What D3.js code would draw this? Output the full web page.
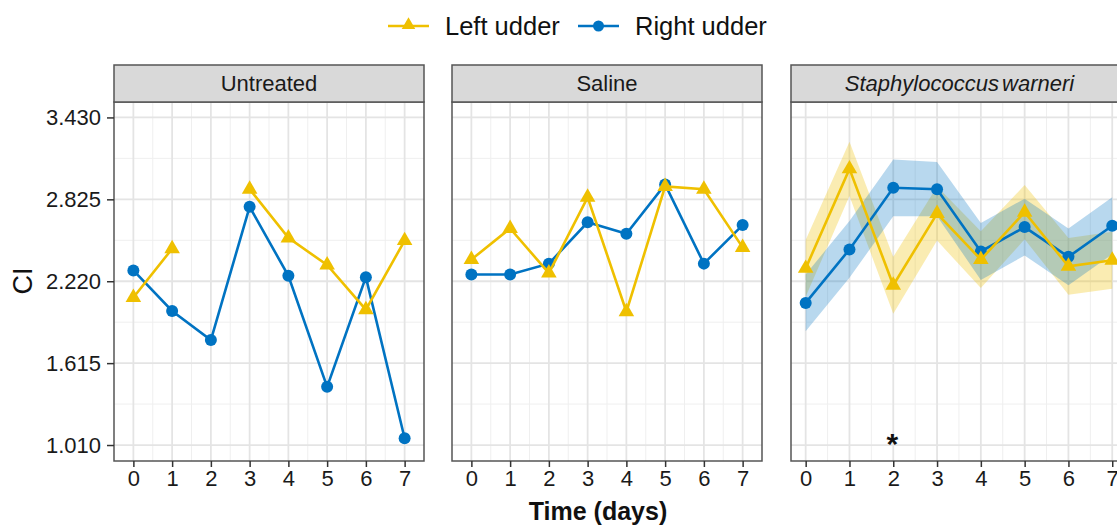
<!DOCTYPE html>
<html>
<head>
<meta charset="utf-8">
<script src="https://cdn.jsdelivr.net/npm/d3@7"></script>
<style>
  body { margin: 0; background: #fff; }
  svg { display: block; font-family: "Liberation Sans", Arial, sans-serif; }
</style>
</head>
<body>
<svg id="chart" width="1117" height="525"></svg>
<script>
// ---------------- data ----------------
const days = [0, 1, 2, 3, 4, 5, 6, 7];
const panelTitles = ["Untreated", "Saline", "Staphylococcus warneri"];
const yTickValues = [1.010, 1.615, 2.220, 2.825, 3.430];
const seriesNames = ["Left udder", "Right udder"];

const untreatedLeft  = [2.10, 2.46, null, 2.90, 2.54, 2.34, 2.01, 2.52];
const untreatedRight = [2.30, 2.00, 1.785, 2.77, 2.26, 1.44, 2.25, 1.06];
const salineLeft     = [2.38, 2.61, 2.28, 2.84, 1.995, 2.92, 2.90, 2.47];
const salineRight    = [2.27, 2.27, 2.35, 2.655, 2.57, 2.935, 2.35, 2.635];
const warneriLeft    = [2.315, 3.05, 2.19, 2.72, 2.38, 2.73, 2.33, 2.375];
const warneriRight   = [2.06, 2.455, 2.91, 2.90, 2.44, 2.62, 2.40, 2.63];
const warneriLeftSE  = [0.21, 0.20, 0.21, 0.20, 0.21, 0.20, 0.21, 0.21];
const warneriRightSE = [0.21, 0.21, 0.21, 0.20, 0.21, 0.21, 0.21, 0.21];
const significantDays = [2];

// ---------------- style ----------------
const colLeft = "#EFC000", colRight = "#0073C2";
const svg = d3.select("#chart");

const panels = [
  { title: panelTitles[0], left: untreatedLeft, right: untreatedRight, x0: 114, x1: 424, dom: [-0.5, 7.5], italic: false },
  { title: panelTitles[1], left: salineLeft, right: salineRight, x0: 452, x1: 762, dom: [-0.5, 7.5], italic: false },
  { title: panelTitles[2], left: warneriLeft, right: warneriRight, leftSE: warneriLeftSE, rightSE: warneriRightSE,
    x0: 791, x1: 1128, dom: [-0.335, 7.36], italic: true, stars: significantDays }
];

const stripTop = 65, panelTop = 102, panelBottom = 461;
const y = d3.scaleLinear().domain([0.892, 3.544]).range([panelBottom, panelTop]);
const yMinor = d3.range(yTickValues.length - 1).map(i => (yTickValues[i] + yTickValues[i + 1]) / 2);

panels.forEach((p, pi) => {
  const x = d3.scaleLinear().domain(p.dom).range([p.x0, p.x1]);
  const g = svg.append("g");
  const w = p.x1 - p.x0;

  g.append("rect").attr("x", p.x0).attr("y", panelTop).attr("width", w).attr("height", panelBottom - panelTop).attr("fill", "#fff");

  // grid
  const xMinor = d3.range(0, 7).map(d => d + 0.5);
  g.selectAll(".gxm").data(xMinor).join("line")
    .attr("x1", d => x(d)).attr("x2", d => x(d)).attr("y1", panelTop).attr("y2", panelBottom)
    .attr("stroke", "#efefef").attr("stroke-width", 1);
  g.selectAll(".gym").data(yMinor).join("line")
    .attr("x1", p.x0).attr("x2", p.x1).attr("y1", d => y(d)).attr("y2", d => y(d))
    .attr("stroke", "#efefef").attr("stroke-width", 1);
  g.selectAll(".gx").data(days).join("line")
    .attr("x1", d => x(d)).attr("x2", d => x(d)).attr("y1", panelTop).attr("y2", panelBottom)
    .attr("stroke", "#e4e4e4").attr("stroke-width", 1.8);
  g.selectAll(".gy").data(yTickValues).join("line")
    .attr("x1", p.x0).attr("x2", p.x1).attr("y1", d => y(d)).attr("y2", d => y(d))
    .attr("stroke", "#e4e4e4").attr("stroke-width", 1.8);

  // ribbons
  const mk = (vals, se) => days.map((d, i) => ({ d, v: vals[i], se: se ? se[i] : 0 }));
  if (p.leftSE) {
    const area = d3.area().x(d => x(d.d)).y0(d => y(d.v - d.se)).y1(d => y(d.v + d.se));
    g.append("path").datum(mk(p.left, p.leftSE)).attr("d", area).attr("fill", colLeft).attr("fill-opacity", 0.3);
    g.append("path").datum(mk(p.right, p.rightSE)).attr("d", area).attr("fill", colRight).attr("fill-opacity", 0.28);
  }

  const line = d3.line().defined(d => d.v != null).x(d => x(d.d)).y(d => y(d.v));
  const rd = mk(p.right);
  g.append("path").datum(rd).attr("d", line).attr("fill", "none").attr("stroke", colRight).attr("stroke-width", 2.6);
  g.selectAll(".pr").data(rd.filter(d => d.v != null)).join("circle")
    .attr("cx", d => x(d.d)).attr("cy", d => y(d.v)).attr("r", 6).attr("fill", colRight);
  const ld = mk(p.left);
  g.append("path").datum(ld).attr("d", line).attr("fill", "none").attr("stroke", colLeft).attr("stroke-width", 2.6);
  g.selectAll(".pl").data(ld.filter(d => d.v != null)).join("path")
    .attr("d", d3.symbol(d3.symbolTriangle, 105))
    .attr("transform", d => `translate(${x(d.d)},${y(d.v)})`).attr("fill", colLeft);

  if (p.stars) {
    g.selectAll(".star").data(p.stars).join("text")
      .attr("x", d => x(d) - 1).attr("y", 454).attr("text-anchor", "middle")
      .attr("font-size", 30).attr("font-weight", "bold").attr("fill", "#111").text("*");
  }

  g.append("rect").attr("x", p.x0).attr("y", panelTop).attr("width", w).attr("height", panelBottom - panelTop)
    .attr("fill", "none").attr("stroke", "#555").attr("stroke-width", 1.5);

  g.append("rect").attr("x", p.x0).attr("y", stripTop).attr("width", w).attr("height", panelTop - stripTop)
    .attr("fill", "#d9d9d9").attr("stroke", "#555").attr("stroke-width", 1.5);
  g.append("text").attr("x", p.x0 + w / 2).attr("y", (stripTop + panelTop) / 2).attr("dy", "0.36em")
    .attr("text-anchor", "middle").attr("font-size", 22).attr("fill", "#1a1a1a")
    .attr("font-style", p.italic ? "italic" : "normal").attr("word-spacing", p.italic ? -3 : 0)
    .text(p.title);

  const xa = d3.axisBottom(x).tickValues(days).tickSize(6).tickPadding(3).tickFormat(d3.format("d"));
  const ax = g.append("g").attr("transform", `translate(0,${panelBottom})`).call(xa);
  ax.select(".domain").remove();
  ax.selectAll(".tick line").attr("stroke", "#333").attr("stroke-width", 1.5);
  ax.selectAll(".tick text").attr("font-size", 22).attr("fill", "#1a1a1a").attr("font-family", "Liberation Sans, Arial, sans-serif");

  if (pi === 0) {
    const ya = d3.axisLeft(y).tickValues(yTickValues).tickSize(7).tickPadding(6).tickFormat(d3.format(".3f"));
    const ay = g.append("g").attr("transform", `translate(${p.x0},0)`).call(ya);
    ay.select(".domain").remove();
    ay.selectAll(".tick line").attr("stroke", "#333").attr("stroke-width", 1.5);
    ay.selectAll(".tick text").attr("font-size", 22).attr("fill", "#1a1a1a").attr("font-family", "Liberation Sans, Arial, sans-serif");
  }
});

svg.append("text").attr("transform", "translate(32,281) rotate(-90)").attr("text-anchor", "middle")
  .attr("font-size", 27).attr("fill", "#111").text("CI");
svg.append("text").attr("x", 598).attr("y", 520).attr("text-anchor", "middle")
  .attr("font-size", 25).attr("font-weight", "bold").attr("fill", "#111").text("Time (days)");

const leg = svg.append("g");
const legItems = [
  { name: seriesNames[0], col: colLeft, shape: "tri", x0: 388, tx: 445 },
  { name: seriesNames[1], col: colRight, shape: "circ", x0: 578, tx: 635 }
];
legItems.forEach(it => {
  leg.append("line").attr("x1", it.x0).attr("x2", it.x0 + 41).attr("y1", 26).attr("y2", 26)
    .attr("stroke", it.col).attr("stroke-width", 2.6);
  if (it.shape === "tri") {
    leg.append("path").attr("d", d3.symbol(d3.symbolTriangle, 80)).attr("transform", `translate(${it.x0 + 20.5},25)`).attr("fill", it.col);
  } else {
    leg.append("circle").attr("cx", it.x0 + 20.5).attr("cy", 26).attr("r", 5.5).attr("fill", it.col);
  }
  leg.append("text").attr("x", it.tx).attr("y", 26).attr("dy", "0.36em").attr("font-size", 25.5)
    .attr("fill", "#111").text(it.name);
});
</script>
</body>
</html>
